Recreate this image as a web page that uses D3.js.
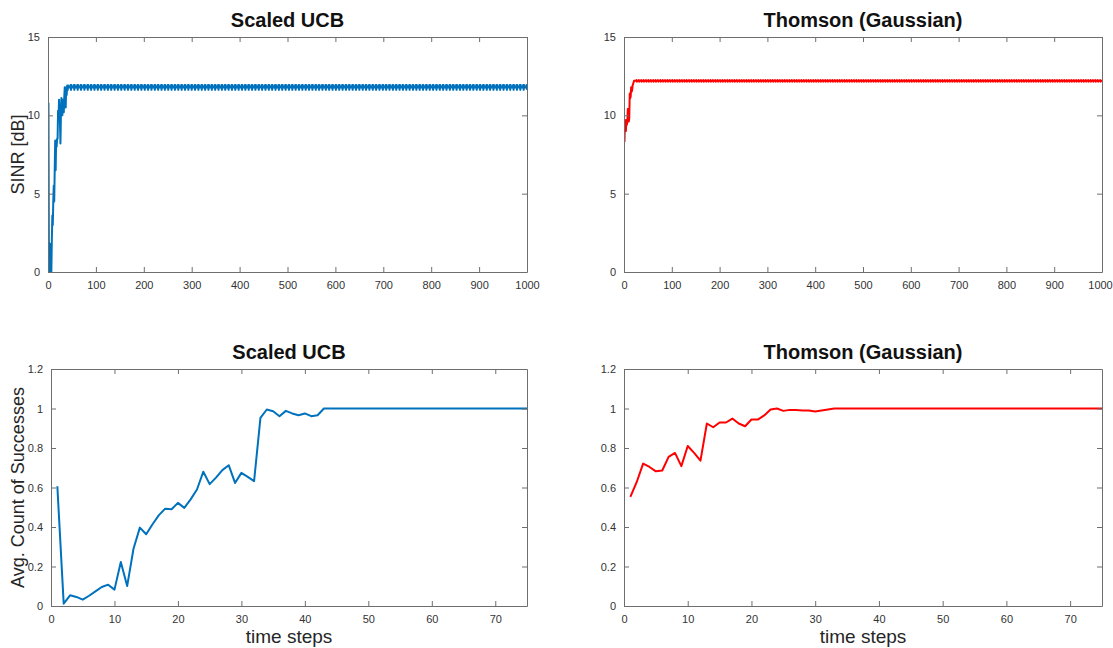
<!DOCTYPE html>
<html>
<head>
<meta charset="utf-8">
<title>Scaled UCB vs Thomson</title>
<script src="https://cdn.jsdelivr.net/npm/d3@7"></script>
<style>
  body { margin: 0; background: #fff; }
  svg text { font-family: "Liberation Sans", Arial, Helvetica, sans-serif; }
</style>
</head>
<body>
<svg id="chart" width="1113" height="648"></svg>
<script>
// SINR [dB], first steps (t = 1..42) of Scaled UCB
var ucbSinrStart = [10.8, 0, 0, 1.8, 0.5, 0, 0, 2.0, 3.6, 3.0, 4.5, 5.5, 4.5, 6.5, 8.4, 6.5, 8.4, 8.0, 8.5, 8.5,
  10.3, 9.8, 11.0, 10.4, 9.5, 8.2, 10.0, 11.1, 10.8, 10.0, 11.0, 10.6, 10.2, 11.2, 11.8, 10.6, 10.5, 11.8, 11.3, 11.9,
  11.6, 11.9];
// steady state ripple, repeats until t = 1000
var ucbSinrCycle = [11.78, 11.78, 11.78, 11.78, 11.93, 11.63, 11.93];

// SINR [dB] of Thomson (Gaussian), t = 1..22 then the flat part
var thomSinrStart = [8.3, 9.7, 9.2, 9.0, 9.7, 9.4, 9.6, 10.4, 10.3, 9.6, 9.8, 11.4, 11.1, 11.2, 11.8, 11.5, 11.6, 11.9,
  12.0, 12.1, 12.2, 12.2];
var thomSinrCycle = [12.2, 12.2, 12.2, 12.25, 12.15];

// avg. count of successes, t = 1..75
var ucbSuccess = [0.606, 0.012, 0.054, 0.046, 0.032, 0.052, 0.074, 0.096, 0.108, 0.083,
  0.223, 0.101, 0.29, 0.397, 0.363, 0.414, 0.46, 0.493, 0.49, 0.522,
  0.497, 0.54, 0.59, 0.68, 0.617, 0.65, 0.688, 0.713, 0.623, 0.674,
  0.654, 0.632, 0.953, 0.995, 0.986, 0.961, 0.988, 0.975, 0.966, 0.975,
  0.961, 0.966, 1, 1, 1, 1, 1, 1, 1, 1,
  1, 1, 1, 1, 1, 1, 1, 1, 1, 1,
  1, 1, 1, 1, 1, 1, 1, 1, 1, 1,
  1, 1, 1, 1, 1];
var thomSuccess = [0.552, 0.628, 0.721, 0.704, 0.682, 0.686, 0.755, 0.775, 0.708, 0.81,
  0.775, 0.736, 0.924, 0.905, 0.929, 0.929, 0.949, 0.924, 0.91, 0.944,
  0.944, 0.965, 0.995, 1.0, 0.988, 0.993, 0.993, 0.99, 0.99, 0.985,
  0.99, 0.995, 1, 1, 1, 1, 1, 1, 1, 1,
  1, 1, 1, 1, 1, 1, 1, 1, 1, 1,
  1, 1, 1, 1, 1, 1, 1, 1, 1, 1,
  1, 1, 1, 1, 1, 1, 1, 1, 1, 1,
  1, 1, 1, 1, 1];

var sinrTicksX = [0, 100, 200, 300, 400, 500, 600, 700, 800, 900, 1000];
var sinrTicksY = [0, 5, 10, 15];
var succTicksX = [0, 10, 20, 30, 40, 50, 60, 70];
var succTicksY = [0, 0.2, 0.4, 0.6, 0.8, 1, 1.2];

var BLUE = "#0072BD", RED = "#FF0000";

function fillSteps(start, cycle, n) {
  var out = start.slice();
  var k = 0;
  while (out.length < n) { out.push(cycle[k % cycle.length]); k++; }
  return out;
}

var svg = d3.select("#chart");
var fmt = d3.format("~g");

function panel(p) {
  var x = d3.scaleLinear().domain(p.xDom).range([p.x0, p.x1]);
  var y = d3.scaleLinear().domain(p.yDom).range([p.y1, p.y0]);
  var g = svg.append("g");
  var id = "clip" + p.name;
  g.append("clipPath").attr("id", id).append("rect")
    .attr("x", p.x0).attr("y", p.y0 - 2).attr("width", p.x1 - p.x0).attr("height", p.y1 - p.y0 + 4);

  var pts = p.values.map(function(v, i) { return [i + 1, v]; });
  var line = d3.line().x(function(d) { return x(d[0]); }).y(function(d) { return y(d[1]); });
  g.append("path").datum(pts)
    .attr("clip-path", "url(#" + id + ")")
    .attr("d", line)
    .attr("fill", "none")
    .attr("stroke", p.color)
    .attr("stroke-width", 2)
    .attr("stroke-linejoin", "round");

  // axes: ticks pointing inwards on all four sides (box on)
  var tl = 5;
  var axB = d3.axisBottom(x).tickValues(p.xTicks).tickFormat(fmt).tickSizeInner(-tl).tickSizeOuter(0).tickPadding(9);
  var axT = d3.axisTop(x).tickValues(p.xTicks).tickSizeInner(-tl).tickSizeOuter(0).tickFormat("");
  var axL = d3.axisLeft(y).tickValues(p.yTicks).tickFormat(fmt).tickSizeInner(-tl).tickSizeOuter(0).tickPadding(8);
  var axR = d3.axisRight(y).tickValues(p.yTicks).tickSizeInner(-tl).tickSizeOuter(0).tickFormat("");
  var axes = [
    g.append("g").attr("transform", "translate(0," + p.y1 + ")").call(axB),
    g.append("g").attr("transform", "translate(0," + p.y0 + ")").call(axT),
    g.append("g").attr("transform", "translate(" + p.x0 + ",0)").call(axL),
    g.append("g").attr("transform", "translate(" + p.x1 + ",0)").call(axR)
  ];
  axes.forEach(function(a) {
    a.select(".domain").attr("stroke", "#6e6e6e");
    a.selectAll(".tick line").attr("stroke", "#6e6e6e");
    a.selectAll(".tick text").attr("fill", "#333").style("font-size", "11px");
  });
  // keep the last x label inside the page
  axes[0].selectAll(".tick text").filter(function(d) { return x(d) > 1090; }).attr("dx", "-2");

  g.append("text")
    .attr("x", (p.x0 + p.x1) / 2).attr("y", p.y0 - 10)
    .attr("text-anchor", "middle")
    .style("font-size", "20px").style("font-weight", "bold").attr("fill", "#111")
    .text(p.title);
  if (p.ylabel) {
    g.append("text")
      .attr("transform", "translate(24," + ((p.y0 + p.y1) / 2) + ") rotate(-90)")
      .attr("text-anchor", "middle")
      .style("font-size", "18px").attr("fill", "#262626")
      .text(p.ylabel);
  }
  if (p.xlabel) {
    g.append("text")
      .attr("x", (p.x0 + p.x1) / 2).attr("y", p.y1 + 37)
      .attr("text-anchor", "middle")
      .style("font-size", "19px").attr("fill", "#262626")
      .text(p.xlabel);
  }
}

panel({ name: "tl", x0: 48, x1: 527, y0: 37, y1: 272, xDom: [0, 1000], yDom: [0, 15],
  xTicks: sinrTicksX, yTicks: sinrTicksY, values: fillSteps(ucbSinrStart, ucbSinrCycle, 1000),
  color: BLUE, title: "Scaled UCB", ylabel: "SINR [dB]" });
panel({ name: "tr", x0: 624, x1: 1102, y0: 37, y1: 272, xDom: [0, 1000], yDom: [0, 15],
  xTicks: sinrTicksX, yTicks: sinrTicksY, values: fillSteps(thomSinrStart, thomSinrCycle, 1000),
  color: RED, title: "Thomson (Gaussian)" });
panel({ name: "bl", x0: 51, x1: 527, y0: 369, y1: 606, xDom: [0, 75], yDom: [0, 1.2],
  xTicks: succTicksX, yTicks: succTicksY, values: ucbSuccess,
  color: BLUE, title: "Scaled UCB", ylabel: "Avg. Count of Successes", xlabel: "time steps" });
panel({ name: "br", x0: 624, x1: 1102, y0: 369, y1: 606, xDom: [0, 75], yDom: [0, 1.2],
  xTicks: succTicksX, yTicks: succTicksY, values: thomSuccess,
  color: RED, title: "Thomson (Gaussian)", xlabel: "time steps" });
</script>
</body>
</html>
